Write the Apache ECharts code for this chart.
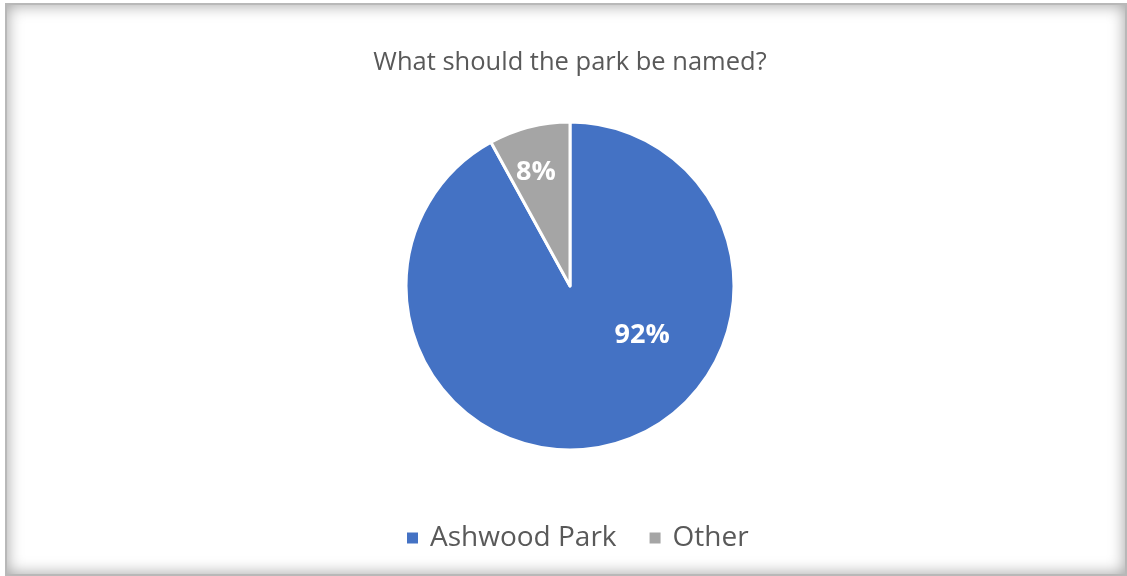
<!DOCTYPE html>
<html>
<head>
<meta charset="utf-8">
<script src="https://cdn.jsdelivr.net/npm/echarts@6/dist/echarts.min.js"></script>
<style>
  html, body { margin: 0; padding: 0; background: #ffffff; }
  #frame {
    position: absolute; left: 5px; top: 3px; width: 1118px; height: 569px;
    border: 2px solid #b8b8b8;
    box-shadow: inset 0 0 16px rgba(0, 0, 0, 0.38);
    background: #ffffff;
  }
  #chart { position: absolute; left: 0; top: 0; width: 1127px; height: 576px; }
</style>
</head>
<body>
<div id="frame"></div>
<div id="chart"></div>
<script>
// Survey result: preferred park name
const titleText = 'What should the park be named?';
const categories = ['Ashwood Park', 'Other'];
const shares = [92, 8];
const sliceColors = ['#4472C4', '#A5A5A5'];
// Nudges that move each percentage label to where it reads best inside its slice
const labelNudges = [[51, -33], [-13, -31]];

const chart = echarts.init(document.getElementById('chart'), null, { renderer: 'canvas' });

const fontFamily = '"Open Sans", "Noto Sans", sans-serif';

chart.setOption({
  backgroundColor: 'transparent',
  animation: false,
  title: {
    text: titleText,
    left: 565,
    textAlign: 'center',
    top: 45,
    textStyle: { color: '#595959', fontSize: 25.5, fontWeight: 'normal', fontFamily: fontFamily }
  },
  legend: {
    data: categories,
    bottom: 19,
    left: 400,
    icon: 'rect',
    itemWidth: 13,
    itemHeight: 13,
    itemGap: 31,
    textStyle: { color: '#595959', fontSize: 28, fontFamily: fontFamily, padding: [0, 0, 0, 6] }
  },
  series: [{
    type: 'pie',
    center: [570, 286],
    radius: [0, 164],
    startAngle: 90,
    clockwise: true,
    avoidLabelOverlap: false,
    itemStyle: { borderColor: '#ffffff', borderWidth: 3 },
    label: {
      show: true,
      position: 'inside',
      formatter: '{c}%',
      color: '#ffffff',
      fontSize: 27,
      fontWeight: 'bold',
      fontFamily: fontFamily
    },
    labelLine: { show: false },
    emphasis: { disabled: true },
    data: categories.map((name, i) => ({
      name: name,
      value: shares[i],
      itemStyle: { color: sliceColors[i] },
      label: { offset: labelNudges[i] }
    }))
  }]
});
</script>
</body>
</html>
